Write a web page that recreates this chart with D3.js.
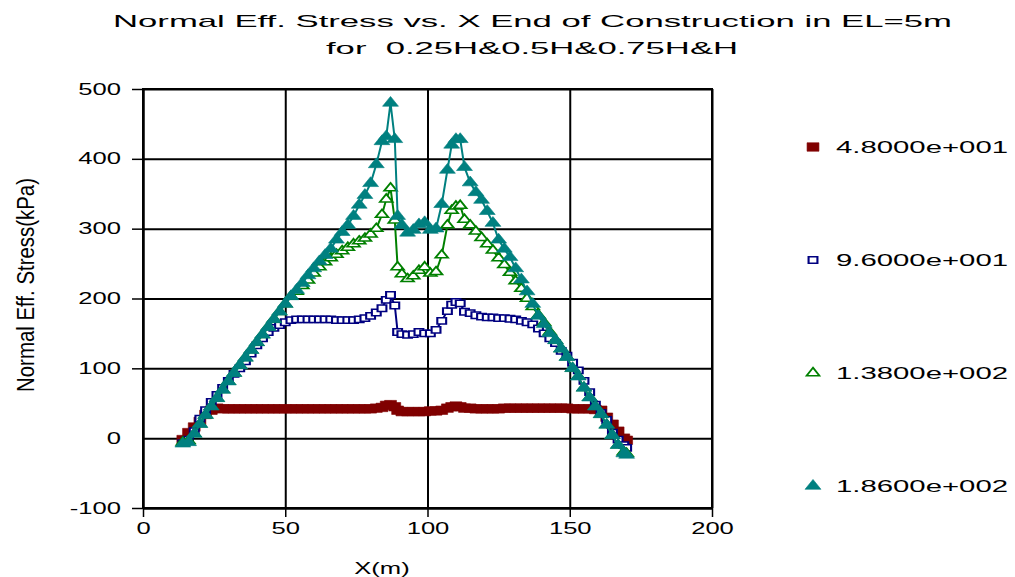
<!DOCTYPE html>
<html>
<head>
<meta charset="utf-8">
<script src="https://cdn.jsdelivr.net/npm/d3@7"></script>
<style>
  body { margin: 0; background: #fff; }
  svg text { font-family: "Liberation Sans", Arial, sans-serif; fill: #000; white-space: pre; }
</style>
</head>
<body>
<svg width="1015" height="577"></svg>
<script>
// mesh node positions along the section (m)
const xNodes = [
  14, 16, 18, 20, 22, 24, 26, 28, 30, 32,
  34, 36, 38, 40, 42, 44, 46, 48, 50, 52,
  54, 56, 58, 60, 62, 64, 66, 68, 70, 72,
  74, 76, 78, 80, 82, 84, 85.5, 87, 88.5, 89.5,
  91, 93, 95, 97, 99, 101, 103, 105, 107, 108.5,
  110, 111.5, 113, 115, 117, 119, 121, 123, 125, 127,
  129, 131, 133, 135, 137, 139, 141, 143, 145, 147,
  149, 151, 153, 155, 157, 159, 161, 163, 165, 167,
  169, 170
];

const s48 = [
  -2, 8, 16, 24, 34, 40, 43, 42, 42, 42,
  42, 42, 42, 42, 42, 42, 42, 42, 42, 42,
  42, 42, 42, 42, 42, 42, 42, 42, 42, 42,
  42, 42, 42, 42, 43, 44, 47, 48, 45, 40,
  38, 38, 38, 38, 38, 39, 39, 40, 43, 45,
  46, 45, 43, 43, 42, 42, 42, 42, 42, 43,
  43, 43, 43, 43, 43, 43, 43, 43, 43, 43,
  43, 42, 42, 42, 42, 41, 40, 30, 20, 10,
  0, -3
];

const s96 = [
  -7, -2, 10, 28, 40, 52, 62, 72, 82, 92,
  100, 110, 121, 133, 143, 152, 158, 162, 166, 169,
  170, 170, 170, 170, 170, 170, 170, 169, 169, 169,
  169, 170, 172, 175, 180, 186, 198, 205, 190, 152,
  149, 148, 149, 152, 150, 150, 155, 168, 182, 191,
  195, 193, 181, 179, 176, 174, 173, 173, 172, 172,
  171, 170, 168, 166, 163, 157, 150, 143, 136, 125,
  118, 108, 97, 82, 66, 48, 36, 26, 8, -2,
  -10, -14
];

const s138 = [
  -6, -4, 6, 20, 33, 45, 57, 69, 81, 93,
  104, 115, 126, 137, 148, 159, 170, 181, 192, 203,
  210, 218, 226, 236, 245, 252, 258, 263, 268, 273,
  278, 282, 286, 292, 300, 320, 342, 358, 312, 245,
  235, 228, 232, 240, 245, 236, 238, 262, 305, 326,
  332, 333, 313, 305, 296, 287, 278, 269, 258, 248,
  237, 225, 214, 200, 188, 176, 165, 152, 140, 128,
  116, 100, 88, 72, 58, 45, 34, 19, 4, -10,
  -20, -22
];

const s186 = [
  -8, -6, 6, 20, 33, 45, 57, 69, 81, 93,
  104, 115, 126, 137, 148, 159, 170, 181, 192, 203,
  212, 222, 233, 243, 253, 262, 271, 284, 295, 305,
  318, 334, 348, 365, 392, 425, 432, 480, 428, 318,
  305, 294, 298, 306, 309, 298, 300, 335, 384, 420,
  428, 428, 388, 366, 352, 341, 325, 308, 284, 271,
  259, 243, 227, 210, 192, 175, 163, 150, 140, 128,
  116, 100, 88, 72, 58, 45, 34, 19, 4, -10,
  -22, -24
];

const seriesNames = ['4.8000e+001', '9.6000e+001', '1.3800e+002', '1.8600e+002'];
const seriesColors = ['#800000', '#000080', '#008000', '#008080'];
const seriesValues = [s48, s96, s138, s186];
const xTicks = [0, 50, 100, 150, 200];
const yTicks = [-100, 0, 100, 200, 300, 400, 500];

const svg = d3.select('svg');
const plotL = 143, plotR = 712, plotT = 89, plotB = 508;
const sx = 1.6; // horizontal stretch of the original picture

const x = d3.scaleLinear().domain([0, 200]).range([plotL, plotR]);
const y = d3.scaleLinear().domain([-100, 500]).range([plotB, plotT]);

// titles
svg.append('text').attr('x', 113).attr('y', 27)
  .style('font-size', '17px')
  .attr('textLength', 839).attr('lengthAdjust', 'spacingAndGlyphs')
  .text('Normal Eff. Stress vs. X End of Construction in EL=5m');
svg.append('text').attr('x', 326).attr('y', 54)
  .style('font-size', '17px')
  .attr('textLength', 412).attr('lengthAdjust', 'spacingAndGlyphs')
  .text('for  0.25H&0.5H&0.75H&H');

// grid
svg.append('g')
  .attr('transform', `translate(0, ${plotB})`)
  .call(d3.axisBottom(x).tickValues(xTicks).tickSize(-(plotB - plotT)).tickFormat(''))
  .call(g => g.select('.domain').remove())
  .selectAll('line').attr('stroke', '#000').attr('stroke-width', 2);
svg.append('g')
  .attr('transform', `translate(${plotL}, 0)`)
  .call(d3.axisLeft(y).tickValues(yTicks).tickSize(-(plotR - plotL)).tickFormat(''))
  .call(g => g.select('.domain').remove())
  .selectAll('line').attr('stroke', '#000').attr('stroke-width', 2);

// axes
const xAxis = svg.append('g')
  .attr('transform', `translate(0, ${plotB})`)
  .call(d3.axisBottom(x).tickValues(xTicks).tickFormat(d => String(d))
    .tickSizeInner(9).tickSizeOuter(0).tickPadding(6));
const yAxis = svg.append('g')
  .attr('transform', `translate(${plotL}, 0)`)
  .call(d3.axisLeft(y).tickValues(yTicks).tickFormat(d => String(d))
    .tickSizeInner(11).tickSizeOuter(0).tickPadding(12));

[xAxis, yAxis].forEach(a => {
  a.select('.domain').attr('stroke', '#000').attr('stroke-width', 2);
  a.selectAll('.tick line').attr('stroke', '#000').attr('stroke-width', 1.5);
  a.selectAll('text')
    .style('font-family', '"Liberation Sans", Arial, sans-serif')
    .style('font-size', '16px').attr('fill', '#000');
});
xAxis.selectAll('text').attr('transform', `scale(${sx},1)`);
yAxis.selectAll('text').attr('transform', `scale(${sx},1)`).attr('x', -22 / sx);
yAxis.selectAll('.tick').filter(d => d === 0).select('line').remove();

// frame
svg.append('rect')
  .attr('x', plotL).attr('y', plotT)
  .attr('width', plotR - plotL).attr('height', plotB - plotT)
  .attr('fill', 'none').attr('stroke', '#000').attr('stroke-width', 2);

// axis titles
svg.append('text')
  .attr('transform', `translate(${x(84)}, 574) scale(${sx},1)`)
  .attr('text-anchor', 'middle').style('font-size', '16px')
  .text('X(m)');
svg.append('text')
  .attr('transform', `translate(34, 285) rotate(-90) scale(1, ${sx})`)
  .attr('text-anchor', 'middle').style('font-size', '15px')
  .attr('textLength', 214).attr('lengthAdjust', 'spacingAndGlyphs')
  .text('Normal Eff. Stress(kPa)');

// series
const markers = [
  { type: d3.symbolSquare, size: 72, fill: true },
  { type: d3.symbolSquare, size: 40, fill: false },
  { type: d3.symbolTriangle, size: 36, fill: false },
  { type: d3.symbolTriangle, size: 56, fill: true }
];

const line = d3.line().x(d => x(d[0])).y(d => y(d[1]));

const series = svg.append('g').selectAll('g')
  .data(seriesValues)
  .join('g');

series.append('path')
  .attr('d', (vals) => line(vals.map((v, i) => [xNodes[i], v])))
  .attr('fill', 'none')
  .attr('stroke', (vals, i) => seriesColors[i])
  .attr('stroke-width', 2);

series.each(function (vals, si) {
  const m = markers[si];
  d3.select(this).selectAll('path.mk')
    .data(vals.map((v, i) => [xNodes[i], v]))
    .join('path')
    .attr('class', 'mk')
    .attr('d', d3.symbol().type(m.type).size(m.size))
    .attr('transform', d => `translate(${x(d[0])}, ${y(d[1])}) scale(1.4, 1)`)
    .attr('fill', m.fill ? seriesColors[si] : '#fff')
    .attr('stroke', seriesColors[si])
    .attr('stroke-width', m.fill ? 0.5 : 1.5);
});

// legend
const legend = svg.append('g').selectAll('g')
  .data(seriesNames)
  .join('g')
  .attr('transform', (d, i) => `translate(813, ${147 + i * 113})`);

legend.append('path')
  .attr('d', (d, i) => d3.symbol().type(markers[i].type).size(markers[i].size)())
  .attr('transform', 'scale(1.4, 1)')
  .attr('fill', (d, i) => markers[i].fill ? seriesColors[i] : '#fff')
  .attr('stroke', (d, i) => seriesColors[i])
  .attr('stroke-width', (d, i) => markers[i].fill ? 0.5 : 1.5);

legend.append('text')
  .attr('x', 23).attr('y', 6)
  .style('font-size', '16px')
  .attr('textLength', 172).attr('lengthAdjust', 'spacingAndGlyphs')
  .text(d => d);
</script>
</body>
</html>
